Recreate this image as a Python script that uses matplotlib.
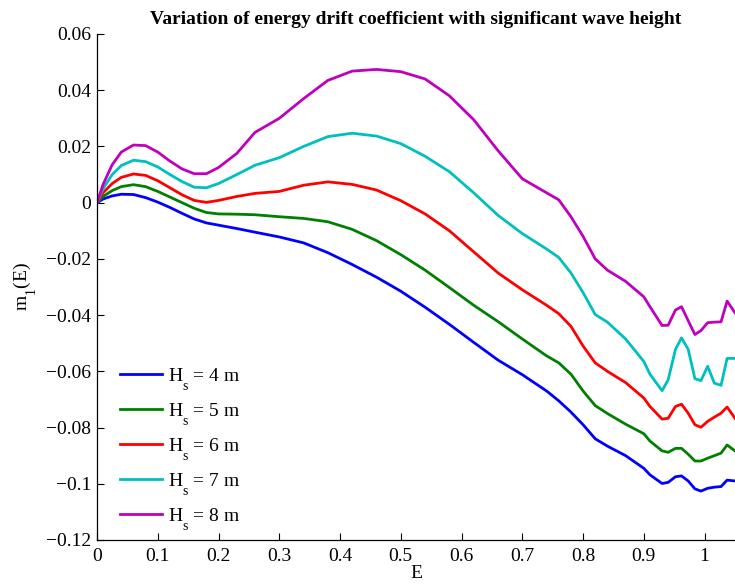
import matplotlib
matplotlib.use("Agg")
import matplotlib.pyplot as plt

plt.rcParams["font.family"] = ["Liberation Serif", "DejaVu Serif"]
plt.rcParams["mathtext.fontset"] = "custom"
plt.rcParams["mathtext.rm"] = "Liberation Serif"
plt.rcParams["mathtext.it"] = "Liberation Serif:italic"

# Drop subscripts further below the baseline (TeX-style labels)
try:
    import matplotlib._mathtext as _mt
    for _obj in list(vars(_mt).values()):
        if isinstance(_obj, type) and hasattr(_obj, "sub1") and hasattr(_obj, "subdrop"):
            _obj.sub1 = 1.0
            _obj.subdrop = 0.9
except Exception:
    pass

# Energy grid (E) shared by all series
E = [0, 0.01, 0.025, 0.04, 0.06, 0.08, 0.10, 0.12, 0.14, 0.16, 0.18, 0.20,
     0.23, 0.26, 0.30, 0.34, 0.38, 0.42, 0.46, 0.50, 0.54, 0.58, 0.62, 0.66,
     0.70, 0.74, 0.76, 0.78, 0.80, 0.82, 0.84, 0.87, 0.90, 0.91, 0.93, 0.94,
     0.952, 0.962, 0.973, 0.984, 0.994, 1.005, 1.016, 1.027, 1.037, 1.05]

m1_hs4 = [0, 0.0013, 0.0024, 0.0030, 0.0029, 0.0018, 0.0002, -0.0017, -0.0038,
          -0.0058, -0.0072, -0.0080, -0.0092, -0.0105, -0.0122, -0.0143, -0.0178,
          -0.0220, -0.0265, -0.0315, -0.0372, -0.0433, -0.0497, -0.0560, -0.0612,
          -0.0670, -0.0705, -0.0745, -0.0790, -0.0840, -0.0866, -0.0900, -0.0945,
          -0.0968, -0.0999, -0.0995, -0.0975, -0.0972, -0.0990, -0.1018, -0.1026,
          -0.1016, -0.1012, -0.1010, -0.0987, -0.0990]

m1_hs5 = [0, 0.0022, 0.0043, 0.0057, 0.0064, 0.0057, 0.0040, 0.0020, 0.0000,
          -0.0020, -0.0035, -0.0040, -0.0041, -0.0043, -0.0050, -0.0056, -0.0068,
          -0.0095, -0.0135, -0.0185, -0.0240, -0.0302, -0.0365, -0.0423, -0.0485,
          -0.0545, -0.0570, -0.0610, -0.0670, -0.0722, -0.0750, -0.0788, -0.0822,
          -0.0848, -0.0883, -0.0888, -0.0874, -0.0874, -0.0895, -0.0919, -0.0919,
          -0.0909, -0.0900, -0.0891, -0.0862, -0.0883]

m1_hs6 = [0, 0.0035, 0.0068, 0.0090, 0.0102, 0.0097, 0.0078, 0.0053, 0.0028,
          0.0008, 0.0001, 0.0008, 0.0022, 0.0033, 0.0040, 0.0062, 0.0074,
          0.0065, 0.0045, 0.0007, -0.0040, -0.0100, -0.0175, -0.0250, -0.0310,
          -0.0365, -0.0395, -0.0440, -0.0510, -0.0570, -0.0600, -0.0640, -0.0695,
          -0.0725, -0.0770, -0.0767, -0.0725, -0.0717, -0.0749, -0.0790, -0.0799,
          -0.0778, -0.0763, -0.0749, -0.0727, -0.0767]

m1_hs7 = [0, 0.0050, 0.0100, 0.0132, 0.0151, 0.0146, 0.0127, 0.0100, 0.0075,
          0.0055, 0.0053, 0.0068, 0.0100, 0.0133, 0.0160, 0.0200, 0.0235,
          0.0247, 0.0237, 0.0210, 0.0165, 0.0110, 0.0035, -0.0045, -0.0110,
          -0.0165, -0.0195, -0.0250, -0.0320, -0.0398, -0.0425, -0.0485, -0.0565,
          -0.0610, -0.0669, -0.0630, -0.0522, -0.0481, -0.0522, -0.0626, -0.0633,
          -0.0582, -0.0642, -0.0650, -0.0554, -0.0554]

m1_hs8 = [0, 0.0065, 0.0135, 0.0180, 0.0205, 0.0203, 0.0180, 0.0148, 0.0120,
          0.0103, 0.0103, 0.0125, 0.0175, 0.0250, 0.0300, 0.0370, 0.0435,
          0.0468, 0.0474, 0.0466, 0.0440, 0.0380, 0.0295, 0.0185, 0.0085,
          0.0035, 0.0010, -0.0050, -0.0120, -0.0200, -0.0240, -0.0280, -0.0335,
          -0.0370, -0.0437, -0.0436, -0.0382, -0.0370, -0.0420, -0.0469, -0.0455,
          -0.0427, -0.0425, -0.0424, -0.0350, -0.0392]

series = [m1_hs4, m1_hs5, m1_hs6, m1_hs7, m1_hs8]
wave_heights = [4, 5, 6, 7, 8]
colors = ["#0000ff", "#008000", "#ff0000", "#00bfbf", "#bf00bf"]

x_ticks = [0, 0.1, 0.2, 0.3, 0.4, 0.5, 0.6, 0.7, 0.8, 0.9, 1]
x_tick_labels = ["0", "0.1", "0.2", "0.3", "0.4", "0.5", "0.6", "0.7", "0.8", "0.9", "1"]
y_ticks = [-0.12, -0.1, -0.08, -0.06, -0.04, -0.02, 0, 0.02, 0.04, 0.06]
y_tick_labels = ["\u22120.12", "\u22120.1", "\u22120.08", "\u22120.06", "\u22120.04",
                 "\u22120.02", "0", "0.02", "0.04", "0.06"]

fig = plt.figure(figsize=(7.35, 5.88), dpi=100)
ax = fig.add_axes([97 / 735, 48 / 588, 1 - 97 / 735, 506 / 588])

for vals, hs, col in zip(series, wave_heights, colors):
    ax.plot(E, vals, color=col, linewidth=2, label=r"H$_{\mathrm{s}}$ = %d m" % hs)

ax.set_xlim(0, 1.05)
ax.set_ylim(-0.12, 0.06)
ax.set_xticks(x_ticks)
ax.set_xticklabels(x_tick_labels)
ax.set_yticks(y_ticks)
ax.set_yticklabels(y_tick_labels)
ax.tick_params(direction="in", length=5, width=0.8, labelsize=14)
ax.tick_params(axis="x", pad=6)
ax.tick_params(axis="y", pad=4)

for side in ("top", "right"):
    ax.spines[side].set_visible(False)
for side in ("left", "bottom"):
    ax.spines[side].set_linewidth(0.9)

ax.set_xlabel("E", fontsize=14, labelpad=0)
ax.set_ylabel(r"m$_{\mathrm{1}}$(E)", fontsize=14, labelpad=6)
ax.set_title("Variation of energy drift coefficient with significant wave height",
             fontsize=14, fontweight="bold", pad=7)

ax.legend(loc="lower left", bbox_to_anchor=(0.008, -0.018), frameon=False,
          fontsize=14, handlelength=2.2, handletextpad=0.3, labelspacing=0.455)

fig.savefig("out.png", dpi=100)
